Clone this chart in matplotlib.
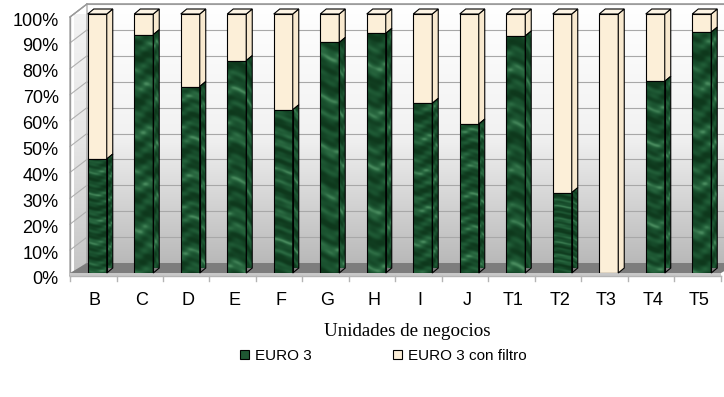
import numpy as np
import matplotlib
matplotlib.use("Agg")
import matplotlib.pyplot as plt
from matplotlib.patches import Polygon, Patch
from matplotlib.colors import LinearSegmentedColormap
from matplotlib.transforms import ScaledTranslation

# share of units per business unit (percent); the rest carries a filter
units = ["B", "C", "D", "E", "F", "G", "H", "I", "J", "T1", "T2", "T3", "T4", "T5"]
euro3 = [44, 92, 72, 82, 63, 89, 92.5, 65.5, 57.5, 91.5, 31, 0, 74, 93]
euro3_filter = [100 - v for v in euro3]

GREEN = "#1f5733"
CREAM, CREAM_SIDE, CREAM_TOP = "#fcefd8", "#f8e9cf", "#fdf4e4"
marble = LinearSegmentedColormap.from_list(
    "marble", ["#0e381c", "#174c2b", "#1f5a35", "#2b6a42", "#4a8c5f"])

fig = plt.figure(figsize=(7.24, 3.97), dpi=100)
ax = fig.add_axes([74 / 724, 1 - 273 / 397, 651 / 724, 259 / 397])
XL, YL = (-0.5, 13.5), (0, 100)

# pixel -> data unit helpers for the fake 3-D depth
ppx = 651 / (XL[1] - XL[0])
ppy = 259 / (YL[1] - YL[0])
def dv(dx_px, dy_px):
    return dx_px / ppx, -dy_px / ppy

back = dv(13, -10)     # back wall shift
front = dv(-4, 3)      # front edge (axis line) shift
depth = dv(6, -5)      # bar depth

# back wall + left side wall with vertical grey gradient
grad = np.linspace(0, 1, 256).reshape(-1, 1)
wall_cmap = LinearSegmentedColormap.from_list("wall", ["#ffffff", "#f2f2f2", "#b9b9b9"])
x0b, x1b = XL[0] + back[0], XL[1] + back[0]
xf0, xf1 = XL[0] + front[0], XL[1] + front[0]
ax.imshow(grad, extent=[x0b, x1b, back[1], 100 + back[1]], cmap=wall_cmap,
          aspect="auto", origin="upper", zorder=0, clip_on=False)

side = Polygon([(xf0, front[1]), (xf0, 100 + front[1]),
                (x0b, 100 + back[1]), (x0b, back[1])], closed=True,
               facecolor="none", edgecolor="#9a9a9a", lw=0.8, zorder=1, clip_on=False)
ax.add_patch(side)
im = ax.imshow(grad, extent=[xf0, x0b, front[1], 100 + back[1]],
               cmap=LinearSegmentedColormap.from_list("side", ["#f4f4f4", "#e6e6e6", "#c4c4c4"]),
               aspect="auto", origin="upper", zorder=0.5)
im.set_clip_path(side)

# grid lines on the back wall and the side wall
for v in range(0, 101, 10):
    ax.plot([x0b, x1b], [v + back[1]] * 2, color="#a8a8a8", lw=0.8, zorder=1, clip_on=False)
    ax.plot([xf0, x0b], [v + front[1], v + back[1]],
            color="#b0b0b0", lw=0.8, zorder=1, clip_on=False)
ax.plot([x0b, x1b], [100 + back[1]] * 2, color="#9a9a9a", lw=1.2, zorder=1, clip_on=False)
ax.plot([xf0] * 2, [front[1], 100 + front[1]], color="#9a9a9a",
        lw=1.0, zorder=1, clip_on=False)
ax.plot([xf0, x0b], [100 + front[1], 100 + back[1]], color="#9a9a9a",
        lw=1.0, zorder=1, clip_on=False)

# floor: dark top plus thin lighter front edge
ax.add_patch(Polygon([(xf0, 0), (xf1, 0), (x1b, back[1]), (x0b, back[1])], closed=True,
                     facecolor="#7d7d7d", edgecolor="none", zorder=1.5, clip_on=False))
ax.add_patch(Polygon([(xf0, front[1]), (xf1, front[1]), (xf1, 0), (xf0, 0)], closed=True,
                     facecolor="#c8c8c8", edgecolor="none", zorder=1.5, clip_on=False))
ax.plot([xf0, xf1], [front[1]] * 2, color="#b4b4b4", lw=1.0, zorder=1.6, clip_on=False)
tick_dy = dv(0, 5)[1]
for b in np.arange(XL[0], XL[1] + 0.01, 1.0):
    ax.plot([b + front[0]] * 2, [front[1], front[1] + tick_dy], color="#b4b4b4",
            lw=1.0, zorder=1.6, clip_on=False)

# stacked bars: front faces through ax.bar, side/top faces as polygons
idx = np.arange(len(units))
w = 19 / ppx
green_bars = ax.bar(idx, euro3, width=w, color="none", edgecolor="black", lw=0.8, zorder=3.4)
ax.bar(idx, euro3_filter, bottom=euro3, width=w, color=CREAM, edgecolor="black",
       lw=0.8, zorder=3)


def marble_face(patch, seed, x0, x1, y0, y1):
    """Paint a wispy, mostly horizontal green texture clipped to one bar face."""
    yy, xx = np.mgrid[0:260, 0:20].astype(float)
    p = (np.sin(yy * 0.30 + 1.3 * np.sin(xx * 0.21 + seed) + 1.1 * np.sin(yy * 0.047 + seed))
         + 0.7 * np.sin(yy * 0.12 + xx * 0.06 + 2.1 * seed)
         + 0.35 * np.sin(yy * 0.71 + xx * 0.35 + 0.5 * seed))
    p = (p - p.min()) / (p.max() - p.min())
    img = ax.imshow(p ** 1.8, extent=[x0, x1, y0, y1 + 3], cmap=marble, aspect="auto",
                    origin="lower", zorder=3.2, interpolation="bilinear")
    img.set_clip_path(patch)


ddx, ddy = depth
for i, (g, rect) in enumerate(zip(euro3, green_bars)):
    left, r = i - w / 2, i + w / 2
    if g > 0:
        marble_face(rect, i, left, r, 0, g)
        sf = Polygon([(r, 0), (r + ddx, ddy), (r + ddx, g + ddy), (r, g)],
                     closed=True, facecolor="none", edgecolor="black",
                     lw=0.8, zorder=3.4, clip_on=False)
        ax.add_patch(sf)
        marble_face(sf, i + 7, r, r + ddx, ddy, g + ddy)
    ax.add_patch(Polygon([(r, g), (r + ddx, g + ddy), (r + ddx, 100 + ddy), (r, 100)],
                         closed=True, facecolor=CREAM_SIDE, edgecolor="black",
                         lw=0.8, zorder=3, clip_on=False))
    ax.add_patch(Polygon([(left, 100), (r, 100), (r + ddx, 100 + ddy),
                          (left + ddx, 100 + ddy)], closed=True,
                         facecolor=CREAM_TOP, edgecolor="black", lw=0.8,
                         zorder=3, clip_on=False))

ax.set_xlim(*XL)
ax.set_ylim(*YL)
for s in ax.spines.values():
    s.set_visible(False)
ax.set_xticks(idx + front[0] * 0.6, units, fontsize=13, family="Liberation Sans")
ax.set_yticks(np.arange(0, 101, 10), [f"{v}%" for v in range(0, 101, 10)],
              fontsize=13, family="Liberation Sans")
ax.tick_params(axis="x", length=0, pad=14)
ax.tick_params(axis="y", length=0, pad=11)
# y labels sit on the front edge, a few pixels below the bar plane
shift = ScaledTranslation(0, -5 / 100, fig.dpi_scale_trans)
for lbl in ax.get_yticklabels():
    lbl.set_transform(lbl.get_transform() + shift)

fig.text(407 / 724, 1 - 332 / 397, "Unidades de negocios", ha="center", va="center",
         fontsize=13.7, family="Liberation Serif")

handles = [Patch(facecolor=GREEN, edgecolor="black", lw=0.8),
           Patch(facecolor=CREAM, edgecolor="black", lw=0.8)]
fig.legend(handles, ["EURO 3", "EURO 3 con filtro"], loc="center",
           bbox_to_anchor=(383 / 724, 1 - 356 / 397), ncol=2, frameon=False,
           prop={"family": "Liberation Sans", "size": 11}, handlelength=0.6,
           handleheight=0.6, handletextpad=0.4, columnspacing=5.3)

fig.savefig("out.png", dpi=100)
